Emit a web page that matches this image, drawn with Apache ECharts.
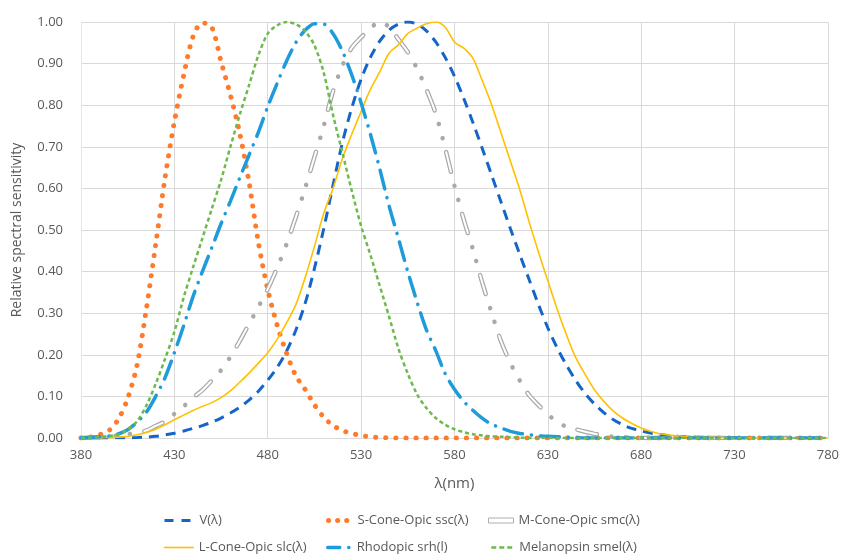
<!DOCTYPE html>
<html>
<head>
<meta charset="utf-8">
<script src="https://cdn.jsdelivr.net/npm/echarts@6/dist/echarts.min.js"></script>
<style>html,body{margin:0;padding:0;background:#fff}#c{width:842px;height:558px}</style>
</head>
<body>
<div id="c"></div>
<script>
var wavelengths = [380,385,390,395,400,405,410,415,420,425,430,435,440,445,450,455,460,465,470,475,480,485,490,495,500,505,510,515,520,525,530,535,540,545,550,555,560,565,570,575,580,585,590,595,600,605,610,615,620,625,630,635,640,645,650,655,660,665,670,675,680,685,690,695,700,705,710,715,720,725,730,735,740,745,750,755,760,765,770,775,780];
var xTicks = [380,430,480,530,580,630,680,730,780];
var yTicks = [0,0.1,0.2,0.3,0.4,0.5,0.6,0.7,0.8,0.9,1.0];
var names = ['V(λ)','S-Cone-Opic ssc(λ)','M-Cone-Opic smc(λ)','L-Cone-Opic slc(λ)','Rhodopic srh(l)','Melanopsin smel(λ)'];

var vLambda = [0.00004,0.00006,0.00012,0.00022,0.0004,0.00064,0.00121,0.00218,0.004,0.0073,
0.0116,0.01684,0.023,0.0298,0.038,0.048,0.06,0.0739,0.091,0.1126,
0.139,0.1693,0.208,0.2586,0.323,0.4073,0.503,0.6082,0.71,0.7932,
0.862,0.9149,0.954,0.9803,0.995,1.0,0.995,0.9786,0.952,0.9154,
0.87,0.8163,0.757,0.6949,0.631,0.5668,0.503,0.4412,0.381,0.321,
0.265,0.217,0.175,0.1382,0.107,0.0816,0.061,0.0446,0.032,0.0232,
0.017,0.0119,0.0082,0.0057,0.0041,0.0029,0.0021,0.0015,0.001,0.0007,
0.0005,0.0004,0.0002,0.0002,0.0001,0.0001,0.0001,0,0,0,0];

var sCone = [0,0.002,0.008,0.018,0.045,0.095,0.175,0.31,0.465,0.625,
0.76,0.872,0.965,0.998,0.988,0.905,0.825,0.733,0.615,0.47,
0.357,0.272,0.205,0.15,0.117,0.08,0.05,0.03,0.018,0.011,
0.006,0.003,0.001,0.0005,0,0,0,0,0,0,
0,0,0,0,0,0,0,0,0,0,
0,0,0,0,0,0,0,0,0,0,
0,0,0,0,0,0,0,0,0,0,
0,0,0,0,0,0,0,0,0,0,0];

var mCone = [0,0.001,0.002,0.004,0.006,0.009,0.013,0.018,0.029,0.04,
0.058,0.076,0.097,0.115,0.138,0.163,0.195,0.233,0.274,0.315,
0.358,0.408,0.465,0.53,0.6,0.675,0.75,0.834,0.895,0.938,
0.963,0.985,1.0,0.988,0.958,0.928,0.888,0.838,0.78,0.697,
0.607,0.525,0.452,0.372,0.3,0.232,0.18,0.138,0.103,0.079,
0.057,0.039,0.027,0.021,0.015,0.01,0.006,0.003,0.002,0.001,
0,0,0,0,0,0,0,0,0,0,
0,0,0,0,0,0,0,0,0,0,0];

var lCone = [0,0,0.0005,0.001,0.002,0.004,0.008,0.013,0.021,0.032,
0.044,0.055,0.066,0.076,0.085,0.097,0.113,0.134,0.156,0.18,
0.205,0.237,0.276,0.32,0.385,0.46,0.54,0.6,0.672,0.73,
0.785,0.838,0.88,0.925,0.945,0.972,0.985,0.996,1.0,0.988,
0.952,0.937,0.912,0.858,0.8,0.733,0.665,0.597,0.52,0.447,
0.378,0.31,0.248,0.193,0.153,0.116,0.088,0.065,0.048,0.035,
0.024,0.016,0.01,0.007,0.005,0.004,0.003,0.002,0.001,0.001,
0,0,0,0,0,0,0,0,0,0,0];

var rhodopic = [0,0.001,0.003,0.005,0.01,0.02,0.038,0.062,0.1,0.145,
0.205,0.27,0.34,0.4,0.457,0.515,0.569,0.625,0.68,0.735,
0.796,0.852,0.905,0.95,0.98,0.996,0.995,0.972,0.93,0.873,
0.806,0.73,0.647,0.558,0.48,0.4,0.327,0.26,0.21,0.155,
0.117,0.088,0.066,0.047,0.033,0.024,0.016,0.011,0.008,0.005,
0.004,0.003,0.002,0.001,0,0,0,0,0,0,
0,0,0,0,0,0,0,0,0,0,
0,0,0,0,0,0,0,0,0,0,0];

var melanopsin = [0,0.001,0.003,0.005,0.009,0.02,0.04,0.078,0.13,0.19,
0.255,0.338,0.41,0.48,0.55,0.62,0.70,0.777,0.848,0.92,
0.972,0.992,1.0,0.995,0.978,0.944,0.878,0.776,0.686,0.595,
0.51,0.44,0.366,0.292,0.215,0.155,0.105,0.072,0.048,0.032,
0.021,0.014,0.009,0.006,0.004,0.003,0.002,0.001,0,0,
0,0,0,0,0,0,0,0,0,0,
0,0,0,0,0,0,0,0,0,0,
0,0,0,0,0,0,0,0,0,0,0];

function pairs(vals){ return wavelengths.map(function(w,i){ return [w, vals[i]]; }); }

var FONT = '"Open Sans", "Noto Sans", sans-serif';
var TXT = '#595959';
var SM = 0.3;
var mPattern = [20, 14.5, 0.1, 14.5, 0.1, 14.5];
var mInner = [20, 43.7];

var chart = echarts.init(document.getElementById('c'), null, {renderer:'canvas'});
var legendText = {color: TXT, fontSize: 13, fontFamily: FONT};
function leg(item, left, top, w, ls) {
  return {show: true, data: [item], orient: 'horizontal', left: left, top: top, padding: 0,
    itemWidth: w, itemHeight: 10, itemGap: 0, textStyle: legendText,
    itemStyle: {opacity: 0}, lineStyle: ls || {}, selectedMode: false};
}
chart.setOption({
  animation: false,
  backgroundColor: '#fff',
  grid: {left: 81, right: 14, top: 22, bottom: 120, containLabel: false},
  xAxis: {
    type: 'value', min: xTicks[0], max: xTicks[xTicks.length-1], interval: 50,
    name: 'λ(nm)', nameLocation: 'middle', nameGap: 38,
    nameTextStyle: {color: TXT, fontSize: 15, fontFamily: FONT},
    axisLine: {show: true, lineStyle: {color: '#D9D9D9', width: 1}},
    axisTick: {show: false},
    axisLabel: {color: TXT, fontSize: 13, fontFamily: FONT, margin: 11},
    splitLine: {show: true, lineStyle: {color: '#D9D9D9', width: 1}}
  },
  yAxis: {
    type: 'value', min: yTicks[0], max: yTicks[yTicks.length-1], interval: 0.1,
    name: 'Relative spectral sensitivity', nameLocation: 'middle', nameGap: 57, nameRotate: 90,
    nameTextStyle: {color: TXT, fontSize: 14, fontFamily: FONT},
    axisLine: {show: true, lineStyle: {color: '#E6E6E6', width: 1}},
    axisTick: {show: false},
    axisLabel: {color: TXT, fontSize: 13, fontFamily: FONT, margin: 18, formatter: function(v){ return v.toFixed(2); }},
    splitLine: {show: true, lineStyle: {color: '#D9D9D9', width: 1}}
  },
  legend: [
    leg(names[0], 163, 514, 30, {width: 3, type: [9, 8]}),
    leg(names[3], 163, 541, 30, {width: 1.6, type: 'solid'}),
    leg(names[1], 324, 514, 26, {width: 5, type: [0.1, 9], cap: 'round', dashOffset: -2}),
    leg(names[4], 324, 541, 26, {width: 3.5, type: [12, 9, 0.1, 9], cap: 'round', dashOffset: -2}),
    leg({name: names[2], icon: 'path://M0,0 L25,0 L25,5 L0,5 Z',
         itemStyle: {opacity: 1, color: '#FFFFFF', borderColor: '#AFAFAF', borderWidth: 1}}, 488, 514, 25),
    leg(names[5], 488, 541, 25, {width: 2.5, type: [5, 3]})
  ],
  series: [
    {name: names[0], type: 'line', data: pairs(vLambda), showSymbol: false, symbol: 'none', smooth: SM,
     lineStyle: {color: '#1565C8', width: 3, type: [10, 7]}, itemStyle: {color: '#1565C8'}, z: 2},
    {name: names[1], type: 'line', data: pairs(sCone), showSymbol: false, symbol: 'none', smooth: SM,
     lineStyle: {color: '#FF7A2A', width: 5, type: [0.1, 10], cap: 'round'}, itemStyle: {color: '#FF7A2A'}, z: 3},
    {name: names[2], type: 'line', data: pairs(mCone), showSymbol: false, symbol: 'none', smooth: SM,
     lineStyle: {color: '#A9A9A9', width: 4.5, type: mPattern, cap: 'round'}, itemStyle: {color: '#B5B5B5'}, z: 4},
    {name: 'mInnerOverlay', type: 'line', data: pairs(mCone), showSymbol: false, symbol: 'none', smooth: SM, silent: true,
     lineStyle: {color: '#FFFFFF', width: 2, type: mInner, cap: 'round'}, itemStyle: {color: '#FFFFFF'}, z: 4},
    {name: names[3], type: 'line', data: pairs(lCone), showSymbol: false, symbol: 'none', smooth: SM,
     lineStyle: {color: '#FFC000', width: 1.6, type: 'solid'}, itemStyle: {color: '#FFC000'}, z: 5},
    {name: names[4], type: 'line', data: pairs(rhodopic), showSymbol: false, symbol: 'none', smooth: SM,
     lineStyle: {color: '#1E9BDA', width: 3.5, type: [19, 9, 0.1, 9], cap: 'round'}, itemStyle: {color: '#1E9BDA'}, z: 6},
    {name: names[5], type: 'line', data: pairs(melanopsin), showSymbol: false, symbol: 'none', smooth: SM,
     lineStyle: {color: '#6DBA4C', width: 2.5, type: [4, 3]}, itemStyle: {color: '#6DBA4C'}, z: 7}
  ]
});
</script>
</body>
</html>
